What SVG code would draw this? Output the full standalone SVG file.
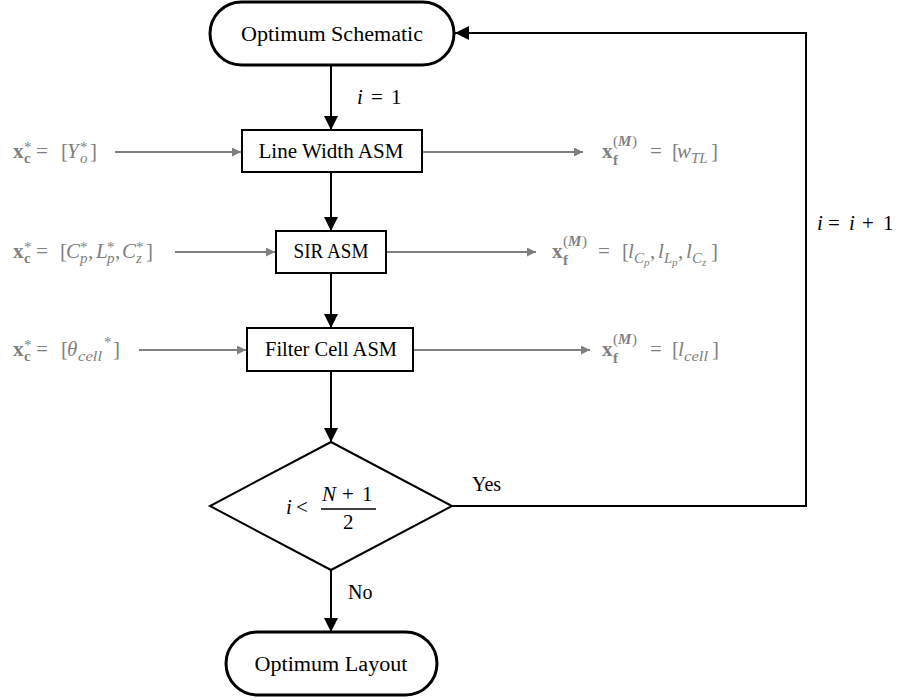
<svg xmlns="http://www.w3.org/2000/svg" width="904" height="700" viewBox="0 0 904 700">
  <defs>
    <marker id="ahb" viewBox="0 0 10 10" refX="10" refY="5" markerWidth="16" markerHeight="14" markerUnits="userSpaceOnUse" orient="auto">
      <path d="M0,0 L10,5 L0,10 Z" fill="#000"/>
    </marker>
    <marker id="ahg" viewBox="0 0 10 10" refX="10" refY="5" markerWidth="11" markerHeight="9" markerUnits="userSpaceOnUse" orient="auto">
      <path d="M0,0 L10,5 L0,10 Z" fill="#7f7f7f"/>
    </marker>
  </defs>
  <style>
    .term { fill: #fff; stroke: #000; stroke-width: 3; }
    .box { fill: #fff; stroke: #000; stroke-width: 2; }
    .flow { fill: none; stroke: #000; stroke-width: 2; marker-end: url(#ahb); }
    .side { fill: none; stroke: #7f7f7f; stroke-width: 1.8; marker-end: url(#ahg); }
    .lbl { font-family: "Liberation Serif", "DejaVu Serif", serif; font-size: 20px; fill: #000; }
    .m { font-family: "Liberation Serif", "DejaVu Serif", serif; font-size: 21px; fill: #000; }
    .g { fill: #808080; }
    .it { font-style: italic; }
    .bf { font-weight: bold; }
    .s { font-size: 15px; }
    .ss { font-size: 11px; }
  </style>

  <rect width="904" height="700" fill="#fff"/>

  <!-- connectors -->
  <g id="connectors">
    <line class="flow" x1="331" y1="65" x2="331" y2="130"/>
    <line class="flow" x1="331" y1="172" x2="331" y2="231"/>
    <line class="flow" x1="331" y1="273" x2="331" y2="328"/>
    <line class="flow" x1="331" y1="371" x2="331" y2="442"/>
    <line class="flow" x1="331" y1="570" x2="331" y2="632"/>
    <polyline class="flow" points="452,506 806,506 806,33 455,33"/>

    <line class="side" x1="115" y1="152" x2="241" y2="152"/>
    <line class="side" x1="421" y1="152" x2="583" y2="152"/>
    <line class="side" x1="175" y1="252" x2="275" y2="252"/>
    <line class="side" x1="386" y1="252" x2="536" y2="252"/>
    <line class="side" x1="139" y1="350" x2="246" y2="350"/>
    <line class="side" x1="413" y1="350" x2="590" y2="350"/>
  </g>

  <!-- start terminator -->
  <g id="optimum-schematic">
    <rect class="term" x="210" y="2" width="244" height="63" rx="31.5"/>
    <text class="lbl" x="332" y="41" text-anchor="middle" textLength="182" lengthAdjust="spacingAndGlyphs">Optimum Schematic</text>
  </g>

  <g id="line-width-asm">
    <rect class="box" x="242" y="130" width="180" height="42"/>
    <text class="lbl" x="331" y="158" text-anchor="middle" textLength="145" lengthAdjust="spacingAndGlyphs">Line Width ASM</text>
  </g>

  <g id="sir-asm">
    <rect class="box" x="276" y="231" width="110" height="42"/>
    <text class="lbl" x="331" y="258" text-anchor="middle" textLength="75" lengthAdjust="spacingAndGlyphs">SIR ASM</text>
  </g>

  <g id="filter-cell-asm">
    <rect class="box" x="247" y="328" width="166" height="43"/>
    <text class="lbl" x="331" y="356" text-anchor="middle" textLength="132" lengthAdjust="spacingAndGlyphs">Filter Cell ASM</text>
  </g>

  <g id="decision">
    <polygon class="box" points="331,442 452,506 331,570 210,506"/>
    <text class="m"><tspan class="it" x="286" y="514">i</tspan><tspan x="296" y="514">&lt;</tspan></text>
    <line x1="321" y1="509" x2="376" y2="509" stroke="#000" stroke-width="1.6"/>
    <text class="m"><tspan class="it" x="322" y="501">N</tspan><tspan x="342" y="501">+</tspan><tspan x="362" y="501">1</tspan></text>
    <text class="m" x="343" y="529">2</text>
  </g>

  <g id="optimum-layout">
    <rect class="term" x="226" y="632" width="211" height="63" rx="31.5"/>
    <text class="lbl" x="331" y="671" text-anchor="middle" textLength="153" lengthAdjust="spacingAndGlyphs">Optimum Layout</text>
  </g>

  <!-- flow labels -->
  <g id="flow-labels">
    <text class="m"><tspan class="it" x="357" y="104">i</tspan><tspan x="371" y="104">=</tspan><tspan x="391" y="104">1</tspan></text>
    <text class="m"><tspan class="it" x="817" y="230">i</tspan><tspan x="828" y="230">=</tspan><tspan class="it" x="849" y="230">i</tspan><tspan x="862" y="230">+</tspan><tspan x="883" y="230">1</tspan></text>
    <text class="lbl" x="472" y="491" font-size="18">Yes</text>
    <text class="lbl" x="348" y="599" font-size="18">No</text>
  </g>

  <!-- design-variable labels (coarse inputs on the left, fine outputs on the right) -->
  <g id="vars">
    <text class="m g"><tspan class="bf" x="13" y="158">x</tspan><tspan class="bf s" x="24" y="163">c</tspan><tspan class="s" x="24" y="152">*</tspan><tspan x="36" y="158">=</tspan><tspan x="61" y="158">[</tspan><tspan class="it" x="67" y="158">Y</tspan><tspan class="it s" x="80" y="163">o</tspan><tspan class="s" x="80" y="152">*</tspan><tspan x="90" y="158">]</tspan></text>
    <text class="m g"><tspan class="bf" x="602" y="158">x</tspan><tspan class="bf s" x="613" y="165">f</tspan><tspan class="s" x="613" y="146">(</tspan><tspan class="s it bf" x="618" y="146">M</tspan><tspan class="s" x="632" y="146">)</tspan><tspan x="650" y="158">=</tspan><tspan x="672" y="158">[</tspan><tspan class="it" x="677" y="158">w</tspan><tspan class="it s" x="691" y="163">TL</tspan><tspan x="711" y="158">]</tspan></text>

    <text class="m g"><tspan class="bf" x="13" y="258">x</tspan><tspan class="bf s" x="24" y="263">c</tspan><tspan class="s" x="24" y="252">*</tspan><tspan x="36" y="258">=</tspan><tspan x="60" y="258">[</tspan><tspan class="it" x="66" y="258">C</tspan><tspan class="it s" x="80" y="263">p</tspan><tspan class="s" x="80" y="252">*</tspan><tspan x="88" y="258">,</tspan><tspan class="it" x="96" y="258">L</tspan><tspan class="it s" x="107" y="263">p</tspan><tspan class="s" x="107" y="252">*</tspan><tspan x="115" y="258">,</tspan><tspan class="it" x="122" y="258">C</tspan><tspan class="it s" x="136" y="263">z</tspan><tspan class="s" x="136" y="252">*</tspan><tspan x="146" y="258">]</tspan></text>
    <text class="m g"><tspan class="bf" x="552" y="258">x</tspan><tspan class="bf s" x="563" y="265">f</tspan><tspan class="s" x="563" y="246">(</tspan><tspan class="s it bf" x="568" y="246">M</tspan><tspan class="s" x="582" y="246">)</tspan><tspan x="598" y="258">=</tspan><tspan x="622" y="258">[</tspan><tspan class="it" x="628" y="258">l</tspan><tspan class="it s" x="634" y="263">C</tspan><tspan class="it ss" x="644" y="266">p</tspan><tspan x="650" y="258">,</tspan><tspan class="it" x="658" y="258">l</tspan><tspan class="it s" x="664" y="263">L</tspan><tspan class="it ss" x="672" y="266">p</tspan><tspan x="678" y="258">,</tspan><tspan class="it" x="686" y="258">l</tspan><tspan class="it s" x="692" y="263">C</tspan><tspan class="it ss" x="702" y="266">z</tspan><tspan x="711" y="258">]</tspan></text>

    <text class="m g"><tspan class="bf" x="13" y="356">x</tspan><tspan class="bf s" x="24" y="361">c</tspan><tspan class="s" x="24" y="350">*</tspan><tspan x="36" y="356">=</tspan><tspan x="61" y="356">[</tspan><tspan class="it" x="67" y="356">θ</tspan><tspan class="it s" x="78" y="361" textLength="24" lengthAdjust="spacingAndGlyphs">cell</tspan><tspan class="s" x="104" y="347">*</tspan><tspan x="113" y="356">]</tspan></text>
    <text class="m g"><tspan class="bf" x="602" y="356">x</tspan><tspan class="bf s" x="613" y="363">f</tspan><tspan class="s" x="613" y="344">(</tspan><tspan class="s it bf" x="618" y="344">M</tspan><tspan class="s" x="632" y="344">)</tspan><tspan x="650" y="356">=</tspan><tspan x="672" y="356">[</tspan><tspan class="it" x="678" y="356">l</tspan><tspan class="it s" x="684" y="361" textLength="24" lengthAdjust="spacingAndGlyphs">cell</tspan><tspan x="712" y="356">]</tspan></text>
  </g>
</svg>
